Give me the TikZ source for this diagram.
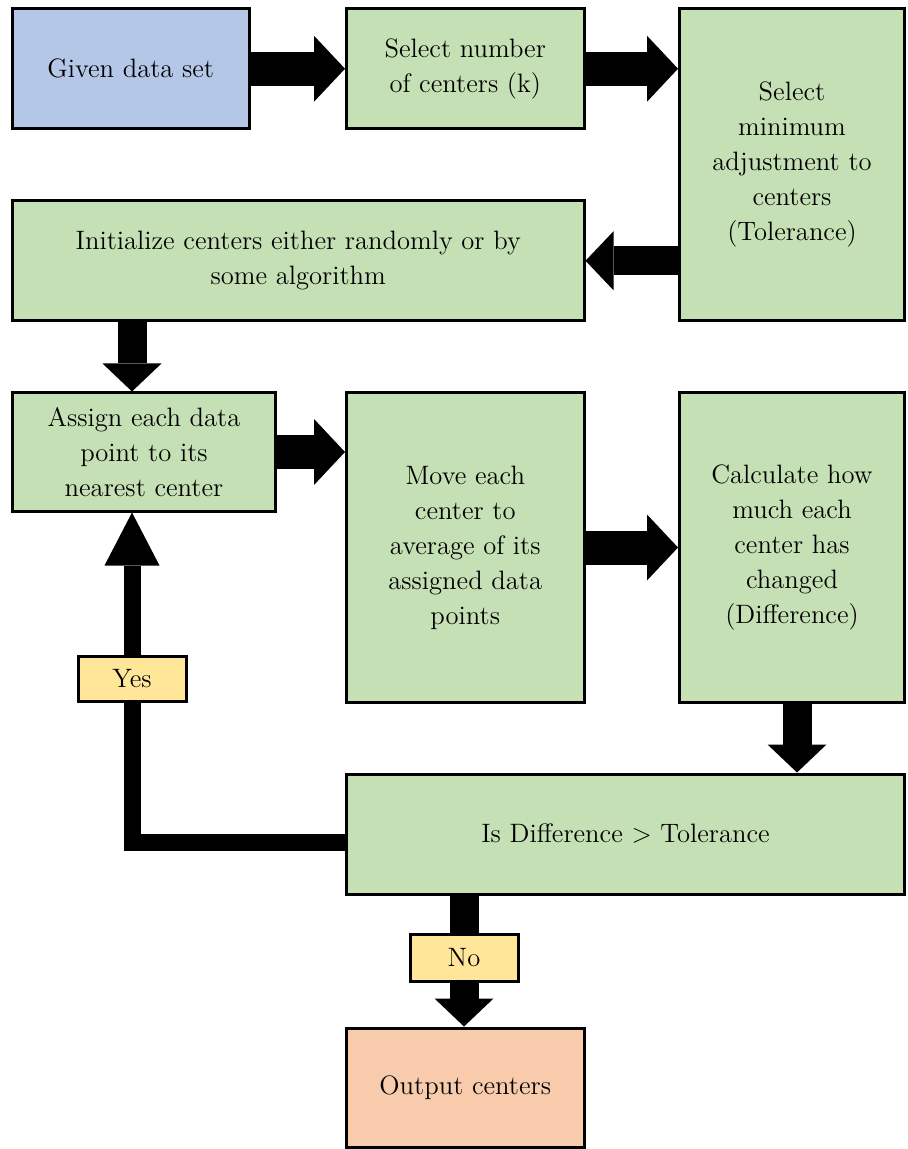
\documentclass[tikz,border=0pt]{standalone}
\usetikzlibrary{arrows.meta}
\definecolor{boxblue}{RGB}{180,199,231}
\definecolor{boxgreen}{RGB}{197,224,180}
\definecolor{boxorange}{RGB}{248,203,173}
\definecolor{tagyellow}{RGB}{255,230,153}

\begin{document}
\begin{tikzpicture}[x=0.5pt,y=-0.5pt,
        box/.style={draw=black,line width=1.5pt,fill=boxgreen,align=center,inner sep=0pt,
            font=\fontsize{13.3}{17.5}\selectfont},
        tag/.style={box,fill=tagyellow,minimum width=54pt},
        fat/.style={line width=17pt,-{Triangle[width=33pt,length=15.5pt,line width=0pt]}},
        slim/.style={line width=14.5pt,-{Triangle[width=29.5pt,length=14pt,line width=0pt]}},
        loopline/.style={line width=8.5pt}]
        \useasboundingbox (0,0) rectangle (907,1149);
        % boxes
        \node[box,fill=boxblue,minimum width=118.25pt,minimum height=60.25pt] (given) at (130.75,68.75) {Given data set};
        \node[box,minimum width=118.75pt,minimum height=60.25pt] (sel) at (465.25,68.75) {Select number\\of centers (k)};
        \node[box,minimum width=112.5pt,minimum height=156.25pt] (tol) at (792,164.75) {Select\\minimum\\adjustment to\\centers\\(Tolerance)};
        \node[box,minimum width=285.75pt,minimum height=60.25pt] (init) at (298.25,260.75) {Initialize centers either randomly or by\\some algorithm};
        \node[box,minimum width=131.5pt,minimum height=59pt] (assign) at (144,452) {Assign each data\\point to its\\nearest center};
        \node[box,minimum width=118.75pt,minimum height=154.5pt] (move) at (465.25,547.5) {Move each\\center to\\average of its\\assigned data\\points};
        \node[box,minimum width=112.5pt,minimum height=154.5pt] (calc) at (792,547.5) {Calculate how\\much each\\center has\\changed\\(Difference)};
        \node[box,minimum width=279pt,minimum height=60pt] (check) at (625.5,834) {Is Difference \textgreater{} Tolerance};
        \node[box,fill=boxorange,minimum width=118.75pt,minimum height=59.5pt] (out) at (465.25,1087.5) {Output centers};
        \node[tag,minimum height=22.5pt] (yes) at (132,678.5) {Yes};
        \node[tag,minimum height=23.5pt] (no) at (464,957.5) {No};
        % arrows
        \draw[fat] (given) -- (sel);
        \draw[fat] (sel.east) -- (sel.east -| tol.west);
        \draw[slim] (tol.west |- init.east) -- (init.east);
        \draw[slim] (init.south -| yes.north) -- (assign.north -| yes.north);
        \draw[fat] (assign.east) -- (assign.east -| move.west);
        \draw[fat] (move.east) -- (calc.west);
        \draw[slim] ([xshift=2.5pt]calc.south) -- ([xshift=2.5pt]calc.south |- check.north);
        \draw[loopline] ([yshift=-4.25pt]check.west) -| (yes.south);
        \draw[loopline,-{Triangle[width=27.5pt,length=26.5pt,line width=0pt]}] (yes.north) -- (assign.south -| yes.north);
        \draw[line width=14.5pt] (check.south -| no.north) -- (no.north);
        \draw[slim] (no.south) -- (out.north -| no.south);
\end{tikzpicture}
\end{document}
